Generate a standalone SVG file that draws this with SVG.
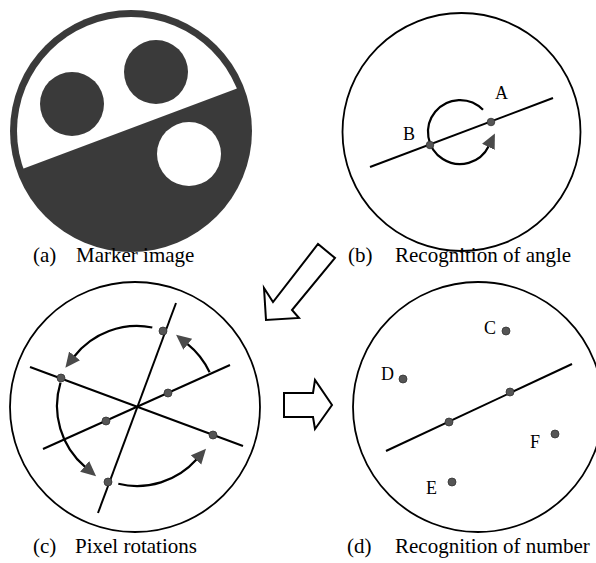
<svg xmlns="http://www.w3.org/2000/svg" width="596" height="563" viewBox="0 0 596 563">
<defs>
<style>
.lbl{font-family:"Liberation Serif","Times New Roman",serif;font-size:21px;fill:#000}
.pt{font-family:"Liberation Serif","Times New Roman",serif;font-size:18px;fill:#000}
.ring{fill:none;stroke:#000;stroke-width:1.8}
.ln{fill:none;stroke:#000;stroke-width:2}
.arc{fill:none;stroke:#000;stroke-width:2.2}
.dot{fill:#555;stroke:#333;stroke-width:0.8}
.big{fill:#fff;stroke:#000;stroke-width:2;stroke-linejoin:miter}
.dark{fill:#3a3a3a}
</style>
<marker id="ah" markerUnits="userSpaceOnUse" markerWidth="18" markerHeight="16" refX="1" refY="7" orient="auto">
<path d="M0,0 L15,7 L0,14 z" fill="#4a4a4a"/>
</marker>
<clipPath id="inner"><circle cx="131" cy="131" r="114"/></clipPath>
</defs>
<rect width="596" height="563" fill="#fff"/>

<g id="panel-a">
<circle cx="131" cy="131" r="121" class="dark"/>
<polygon points="0,0 262,0 262,79.1 0,177.5" fill="#fff" clip-path="url(#inner)"/>
<circle cx="72" cy="104" r="32" class="dark"/>
<circle cx="156" cy="72" r="32" class="dark"/>
<circle cx="189" cy="154" r="32" fill="#fff"/>
<text class="lbl" y="262"><tspan x="33">(a)</tspan><tspan x="76">Marker image</tspan></text>
</g>

<g id="panel-b">
<circle cx="461.5" cy="132" r="119" class="ring"/>
<line x1="370" y1="167" x2="553" y2="98" class="ln"/>
<path d="M483,109.8 A32,32 0 1 0 488.8,146" class="arc" marker-end="url(#ah)"/>
<circle cx="430" cy="145" r="3.8" class="dot"/>
<circle cx="491" cy="122" r="3.8" class="dot"/>
<text class="pt" x="495" y="99">A</text>
<text class="pt" x="403" y="140">B</text>
<text class="lbl" y="262"><tspan x="348">(b)</tspan><tspan x="395">Recognition of angle</tspan></text>
</g>

<g id="panel-c">
<circle cx="135" cy="407" r="125" class="ring"/>
<line x1="176" y1="303" x2="98" y2="513" class="ln"/>
<line x1="30" y1="367" x2="243" y2="446" class="ln"/>
<line x1="43" y1="449" x2="230" y2="365" class="ln"/>
<path d="M152.3,327.5 A80,80 0 0 0 74,356.7" class="arc" marker-end="url(#ah)"/>
<path d="M60.5,382.6 A80,80 0 0 0 85.4,467.1" class="arc" marker-end="url(#ah)"/>
<path d="M118.3,483.8 A80,80 0 0 0 196.7,459.2" class="arc" marker-end="url(#ah)"/>
<path d="M209.6,372.3 A80,80 0 0 0 187,343.6" class="arc" marker-end="url(#ah)"/>
<circle cx="163" cy="331" r="4" class="dot"/>
<circle cx="61" cy="378" r="4" class="dot"/>
<circle cx="168" cy="393" r="4" class="dot"/>
<circle cx="106" cy="421" r="4" class="dot"/>
<circle cx="213" cy="435" r="4" class="dot"/>
<circle cx="108" cy="482" r="4" class="dot"/>
<text class="lbl" y="553"><tspan x="33">(c)</tspan><tspan x="75">Pixel rotations</tspan></text>
</g>

<g id="panel-d">
<circle cx="478" cy="407" r="125" class="ring"/>
<line x1="386" y1="451" x2="572" y2="364" class="ln"/>
<circle cx="449" cy="422" r="4" class="dot"/>
<circle cx="510" cy="392" r="4" class="dot"/>
<circle cx="506" cy="331" r="4" class="dot"/>
<circle cx="403" cy="379" r="4" class="dot"/>
<circle cx="555" cy="434" r="4" class="dot"/>
<circle cx="452" cy="482" r="4" class="dot"/>
<text class="pt" x="484" y="334">C</text>
<text class="pt" x="381" y="380">D</text>
<text class="pt" x="530" y="448">F</text>
<text class="pt" x="426" y="494">E</text>
<text class="lbl" y="553"><tspan x="347">(d)</tspan><tspan x="395">Recognition of number</tspan></text>
</g>

<g id="connectors">
<polygon class="big" points="264,288 273,302 318,244 335,258 292,310 299,318 266,320"/>
<polygon class="big" points="284,393 313,393 315,380 332,405 315,429 313,417 284,417"/>
</g>
</svg>
